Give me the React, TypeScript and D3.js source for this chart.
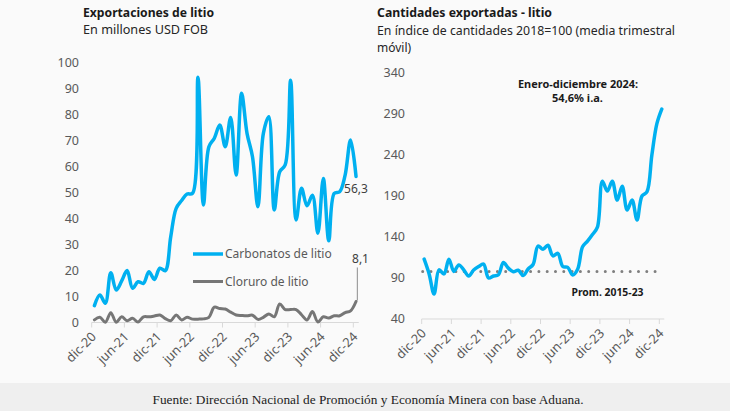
import React from 'react';
import * as d3 from 'd3';

const tickLabels = ['dic-20', 'jun-21', 'dic-21', 'jun-22', 'dic-22', 'jun-23', 'dic-23', 'jun-24', 'dic-24'];

const carbonatos = [6.5, 10.6, 7.4, 19.2, 12.5, 16, 20, 13.2, 15.7, 15.1, 19.6, 16.6, 20.9, 20, 33, 44, 47, 49.5, 49.8, 94.5,
  45.3, 67.7, 71, 76.1, 67.7, 79, 56.8, 88.3, 72.9, 63.9, 44.6, 72.9, 79.3, 43.4, 58.1, 60.7, 93.4, 39.5, 51.7, 45,
  49, 34.4, 55.5, 31.5, 49.8, 50.4, 56.8, 70.3, 56.3];

const cloruro = [1.0, 2.0, 0.1, 3.8, 0.1, 2.2, 0.7, 1.6, 0.2, 2.2, 2.2, 2.5, 2.9, 1.5, 0.7, 2.9, 1.0, 2.0, 1.3, 1.3,
  1.4, 2.0, 5.9, 5.4, 5.2, 4.0, 2.9, 2.7, 2.6, 2.8, 1.2, 2.0, 3.3, 2.2, 7.1, 5.0, 5.0, 5.0, 3.0, 1.0,
  4.2, 0.2, 2.2, 1.7, 2.6, 2.6, 3.8, 4.5, 8.1];

const cantidades = [113, 95, 70.5, 100, 95, 113, 98, 106, 100, 92.5, 99.8, 104, 107, 90, 92.4, 94, 109, 102, 97.7, 99.5,
  93, 101, 106.5, 129, 125, 130, 117, 120, 104, 103, 93.7, 100.6, 128, 135, 143, 152, 208, 196, 208, 185,
  202, 173, 185, 160.7, 190, 195, 240, 278, 296];

const promedio = [98];
const yTicksLeft = [0, 10, 20, 30, 40, 50, 60, 70, 80, 90, 100];
const yTicksRight = [40, 90, 140, 190, 240, 290, 340];
const seriesNames = ['Carbonatos de litio', 'Cloruro de litio'];

const BLUE = '#00B0F0';
const GRAY = '#767676';
const TXT = '#595959';
const FONT = "'Noto Sans', sans-serif";

export default function App() {
  const W = 730, H = 411;
  const n = carbonatos.length;

  const xL = d3.scaleLinear().domain([0, n]).range([91.7, 91.7 + 5.45 * n]);
  const yL = d3.scaleLinear().domain([0, 100]).range([322.5, 63]);
  const xR = d3.scaleLinear().domain([0, n]).range([421.7, 421.7 + 4.95 * n]);
  const yR = d3.scaleLinear().domain([40, 340]).range([319, 73]);

  const curve = d3.curveCatmullRom.alpha(0.5);
  const lineL = d3.line<number>().x((_, i) => xL(i + 0.5)).y(d => yL(d)).curve(curve);
  const lineR = d3.line<number>().x((_, i) => xR(i + 0.5)).y(d => yR(d)).curve(curve);

  const tickIdx = tickLabels.map((_, k) => k * 6);

  const lastC = carbonatos[n - 1];
  const lastCl = cloruro[n - 1];
  const fmt = (v: number) => v.toFixed(1).replace('.', ',');

  return (
    <svg width={W} height={H} style={{ position: 'absolute', left: 0, top: 0, fontFamily: FONT }}>
      <rect x={0} y={0} width={W} height={H} fill="#FAFAFA" />
      <rect x={0} y={383} width={W} height={H - 383} fill="#EFEFEF" />
      <text x={W / 2 + 3} y={404} textAnchor="middle" fontFamily="'Liberation Serif', serif" fontSize={13.2} fill="#222" textLength={431} lengthAdjust="spacingAndGlyphs">
        Fuente: Dirección Nacional de Promoción y Economía Minera con base Aduana.
      </text>

      {/* Left chart titles */}
      <text x={83} y={17} fontSize={12.5} fontWeight="bold" fill="#1a1a1a" textLength={131} lengthAdjust="spacingAndGlyphs">Exportaciones de litio</text>
      <text x={83} y={34} fontSize={12} fill="#262626" textLength={125} lengthAdjust="spacingAndGlyphs">En millones USD FOB</text>

      {/* Left y ticks */}
      {yTicksLeft.map(t => (
        <text key={t} x={79} y={yL(t)} dy="0.35em" textAnchor="end" fontSize={12.5} fill={TXT}>{t}</text>
      ))}
      {/* Left x axis */}
      <line x1={xL(0)} x2={xL(n)} y1={yL(0)} y2={yL(0)} stroke="#D9D9D9" strokeWidth={1} />
      {tickIdx.map((i, k) => (
        <g key={k}>
          <line x1={xL(i)} x2={xL(i)} y1={yL(0)} y2={yL(0) + 5} stroke="#D9D9D9" />
          <text transform={`translate(${xL(i) + 2},${yL(0) + 12}) rotate(-45)`} dy="0.35em" textAnchor="end" fontSize={12.8} fill={TXT}>{tickLabels[k]}</text>
        </g>
      ))}
      <path d={lineL(cloruro) || ''} fill="none" stroke={GRAY} strokeWidth={3} strokeLinejoin="round" strokeLinecap="round" />
      <path d={lineL(carbonatos) || ''} fill="none" stroke={BLUE} strokeWidth={3.5} strokeLinejoin="round" strokeLinecap="round" />
      <text x={xL(n - 0.5) - 12} y={yL(lastC) + 17} fontSize={12} fill="#404040">{fmt(lastC)}</text>
      <line x1={xL(n - 0.5) + 1.3} y1={yL(lastCl) - 1} x2={xL(n - 0.5) + 1.3} y2={yL(lastCl) - 34} stroke="#8C8C8C" strokeWidth={1} />
      <text x={xL(n - 0.5) - 4} y={yL(lastCl) - 38} fontSize={12} fill="#404040">{fmt(lastCl)}</text>

      {/* Legend */}
      <line x1={193} x2={223} y1={254} y2={254} stroke={BLUE} strokeWidth={3.5} />
      <text x={225} y={254} dy="0.35em" fontSize={12} fill={TXT}>{seriesNames[0]}</text>
      <line x1={193} x2={223} y1={281.5} y2={281.5} stroke={GRAY} strokeWidth={3} />
      <text x={225} y={281.5} dy="0.35em" fontSize={12} fill={TXT}>{seriesNames[1]}</text>

      {/* Right chart titles */}
      <text x={377} y={17} fontSize={12.5} fontWeight="bold" fill="#1a1a1a" textLength={175} lengthAdjust="spacingAndGlyphs">Cantidades exportadas - litio</text>
      <text x={377} y={35} fontSize={12} fill="#262626" textLength={298} lengthAdjust="spacingAndGlyphs">En índice de cantidades 2018=100 (media trimestral</text>
      <text x={377} y={52} fontSize={12} fill="#262626">móvil)</text>

      {yTicksRight.map(t => (
        <text key={t} x={405} y={yR(t)} dy="0.35em" textAnchor="end" fontSize={12.5} fill={TXT}>{t}</text>
      ))}
      <line x1={xR(0)} x2={xR(n)} y1={yR(40)} y2={yR(40)} stroke="#D9D9D9" strokeWidth={1} />
      {tickIdx.map((i, k) => (
        <g key={k}>
          <line x1={xR(i)} x2={xR(i)} y1={yR(40)} y2={yR(40) + 5} stroke="#D9D9D9" />
          <text transform={`translate(${xR(i) + 2},${yR(40) + 12}) rotate(-45)`} dy="0.35em" textAnchor="end" fontSize={12.8} fill={TXT}>{tickLabels[k]}</text>
        </g>
      ))}
      <line x1={xR(0.2)} x2={xR(n - 0.2)} y1={yR(promedio[0])} y2={yR(promedio[0])} stroke="#7F7F7F" strokeWidth={3} strokeLinecap="round" strokeDasharray="0 8.3" />
      <path d={lineR(cantidades) || ''} fill="none" stroke={BLUE} strokeWidth={3.5} strokeLinejoin="round" strokeLinecap="round" />
      <text x={607.5} y={296} textAnchor="middle" fontSize={11} fontWeight="bold" fill="#1a1a1a" textLength={72} lengthAdjust="spacingAndGlyphs">Prom. 2015-23</text>
      <text x={578} y={88} textAnchor="middle" fontSize={11} fontWeight="bold" fill="#1a1a1a" textLength={120} lengthAdjust="spacingAndGlyphs">Enero-diciembre 2024:</text>
      <text x={577.5} y={102} textAnchor="middle" fontSize={11} fontWeight="bold" fill="#1a1a1a">54,6% i.a.</text>
    </svg>
  );
}
